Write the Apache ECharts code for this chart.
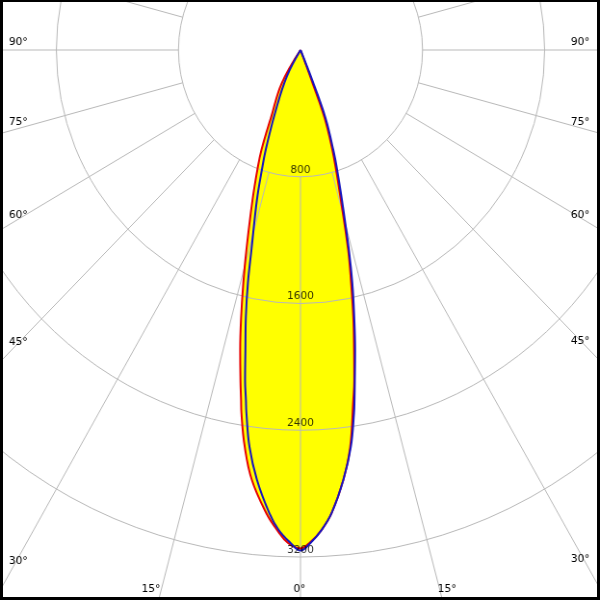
<!DOCTYPE html>
<html><head><meta charset="utf-8">
<script src="https://cdn.jsdelivr.net/npm/echarts@6/dist/echarts.min.js"></script>
<style>
html,body{margin:0;padding:0;background:#fff;overflow:hidden}
#wrap{position:relative;width:600px;height:600px;overflow:hidden;background:#fff}
#chart{position:absolute;left:0;top:0;width:623px;height:600px;transform:scaleX(0.963);transform-origin:0 0}
#frame{position:absolute;left:0;top:0;width:600px;height:600px;box-sizing:border-box;border-style:solid;border-color:#000;border-width:2px 3px 3px 3px;pointer-events:none}
</style></head>
<body><div id="wrap"><div id="chart"></div><div id="frame"></div></div>
<script>
// Each half-plane: gamma angles (deg from nadir, path order from nadir to the pole) and intensities (cd)
const redLeftAngles   = [0, 1.5, 2.9, 4.4, 6.7, 8.3, 9.6, 10.0, 10.7, 11.8, 13.0, 14.3, 15.7, 18.4, 20.5, 22.1, 24.5, 30.4, 33];
const redLeftValues   = [3146, 3113, 3034, 2931, 2733, 2532, 2323, 2244, 2120, 1934, 1730, 1518, 1311, 997, 809, 681, 462, 244, 0];
const redRightAngles  = [0, 1.2, 2.6, 4.0, 5.9, 7.4, 8.9, 9.6, 10.5, 11.6, 12.7, 13.9, 15.6, 17.1, 18.3, 20.2, 20.7, 21];
const redRightValues  = [3146, 3106, 3033, 2929, 2728, 2527, 2236, 2112, 1926, 1720, 1508, 1300, 983, 793, 665, 457, 225, 0];
const blueLeftAngles  = [0, 1.2, 2.7, 4.0, 6.0, 7.6, 8.8, 9.2, 9.9, 10.8, 12.0, 13.2, 14.3, 16.8, 18.5, 19.9, 22.8, 28.2, 31];
const blueLeftValues  = [3159, 3112, 3033, 2930, 2729, 2528, 2318, 2238, 2114, 1928, 1723, 1510, 1303, 989, 799, 671, 431, 191, 0];
const blueRightAngles = [0, 1.2, 2.6, 4.0, 5.9, 7.5, 8.7, 9.1, 9.7, 10.7, 11.8, 13.0, 14.1, 16.0, 17.6, 18.8, 20.9, 21.9, 22];
const blueRightValues = [3159, 3112, 3033, 2929, 2729, 2527, 2318, 2237, 2113, 1927, 1721, 1509, 1302, 985, 795, 667, 459, 227, 0];
const ringValues  = [800, 1600, 2400, 3200];
const angleTicks  = [90, 75, 60, 45, 30, 15, 0, -15, -30, -45, -60, -75, -90];
const angleTickLabels = ['90°','75°','60°','45°','30°','15°','0°','15°','30°','45°','60°','75°','90°'];

const sx = 0.963;              // horizontal squeeze of the reference picture
const X0 = 300.5, Y0 = 50;     // pole on screen
const rMax = 4000, rMaxPx = 633.75;
const cxCanvas = X0 / sx;

function lobe(la, lv, ra, rv) {
  const pts = [];
  for (let i = la.length - 1; i >= 0; i--) pts.push([lv[i], la[i]]);      // left half: positive angles
  for (let i = 1; i < ra.length; i++) pts.push([rv[i], -ra[i]]);           // right half: negative angles
  return pts;
}
const redPts = lobe(redLeftAngles, redLeftValues, redRightAngles, redRightValues);
const bluePts = lobe(blueLeftAngles, blueLeftValues, blueRightAngles, blueRightValues);

const rad = Math.PI / 180;
function rayX(theta, y) { const t = (y - Y0) / Math.cos(theta * rad); return X0 - sx * Math.sin(theta * rad) * t; }
function rayY(theta, x) { const t = (X0 - x) / (sx * Math.sin(theta * rad)); return Y0 + Math.cos(theta * rad) * t; }

const FONT = '11px "DejaVu Sans"';
const graphics = [];
angleTicks.forEach((th, i) => {
  const text = angleTickLabels[i];
  let x, y, align;
  if (th === 0) {
    x = rayX(0, 593) - 1; y = 593; align = 'center';
  } else {
    const ySide = rayY(th, th > 0 ? 0 : 600);
    if (ySide < 596) {
      if (th > 0) { x = 9; align = 'left'; y = rayY(th, 12) - 4; }
      else { x = 589.5; align = 'right'; y = rayY(th, 588) - 4; }
    } else {
      if (th > 0) { x = rayX(th, 593); align = 'right'; }
      else { x = rayX(th, 593) - 3; align = 'left'; }
      y = 593;
    }
  }
  graphics.push({ type: 'text', x: x / sx, y: y + 1.8, z: 100,
    style: { text, font: FONT, fill: '#000', align, verticalAlign: 'bottom' } });
});

const chart = echarts.init(document.getElementById('chart'), null, { renderer: 'canvas', width: Math.round(600 / sx), height: 600 });
const gridColor = '#b9b9b9';
const angleBase = { type: 'value', min: -180, max: 180, startAngle: 90, clockwise: true, interval: 15,
  axisLine: { show: false }, axisTick: { show: false }, axisLabel: { show: false } };
const SMOOTH = 0.4;
chart.setOption({
  animation: false,
  backgroundColor: '#fff',
  polar: [
    { center: [cxCanvas, Y0], radius: [0, rMaxPx] },
    { center: [cxCanvas, Y0], radius: [rMaxPx * 800 / rMax, rMaxPx] }
  ],
  angleAxis: [
    Object.assign({ polarIndex: 0, splitLine: { show: false } }, angleBase),
    Object.assign({ polarIndex: 1, z: 3, splitLine: { show: true, lineStyle: { color: gridColor, width: 1 } } }, angleBase)
  ],
  radiusAxis: [
    { polarIndex: 0, type: 'value', min: 0, max: rMax, interval: 800, axisLine: { show: false }, axisTick: { show: false }, axisLabel: { show: false }, splitLine: { show: false } },
    { polarIndex: 1, z: 3, type: 'value', min: 800, max: rMax, interval: 800, axisLine: { show: false }, axisTick: { show: false }, axisLabel: { show: false },
      splitLine: { show: true, lineStyle: { color: [gridColor, gridColor, gridColor, gridColor, 'rgba(0,0,0,0)'], width: 1 } } }
  ],
  graphic: graphics,
  series: [
    { type: 'line', coordinateSystem: 'polar', polarIndex: 0, data: redPts, smooth: SMOOTH, symbol: 'none', z: 1,
      lineStyle: { width: 0, opacity: 0 }, areaStyle: { color: '#ffff00', opacity: 1 } },
    { type: 'line', coordinateSystem: 'polar', polarIndex: 0, data: bluePts, smooth: SMOOTH, symbol: 'none', z: 1,
      lineStyle: { width: 0, opacity: 0 }, areaStyle: { color: '#ffff00', opacity: 1 } },
    { type: 'line', coordinateSystem: 'polar', polarIndex: 0, data: redPts, smooth: SMOOTH, symbol: 'none', z: 5,
      lineStyle: { width: 2, color: '#e80000' } },
    { type: 'line', coordinateSystem: 'polar', polarIndex: 0, data: bluePts, smooth: SMOOTH, symbol: 'none', z: 6,
      lineStyle: { width: 2, color: '#1616c0' } },
    { type: 'scatter', coordinateSystem: 'polar', polarIndex: 0, z: 8, symbolSize: 1,
      itemStyle: { color: 'rgba(0,0,0,0)' },
      data: ringValues.map(v => [v, 0]),
      label: { show: true, position: 'top', distance: 1, formatter: p => String(p.value[0]),
        color: '#000', fontFamily: 'DejaVu Sans', fontSize: 11 } }
  ]
});
</script>
</body></html>
